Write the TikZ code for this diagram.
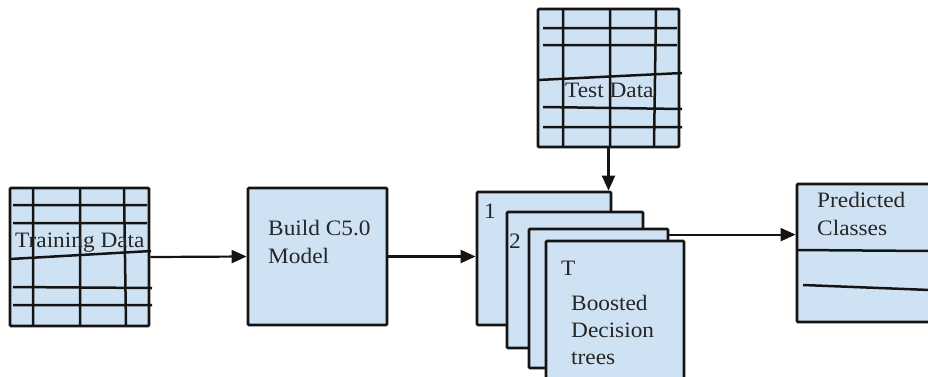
\documentclass[tikz,border=0pt]{standalone}
\usepackage{fontspec}
\setmainfont{Liberation Serif}[FakeStretch=1.06]
\usetikzlibrary{arrows.meta}
\definecolor{boxfill}{HTML}{CFE2F3}
\definecolor{ink}{HTML}{141414}
\definecolor{txt}{HTML}{262626}
\tikzset{
  box/.style={draw=ink, fill=boxfill, line width=2.8pt, rounded corners=1pt,
              rectangle, inner sep=0pt},
  grid/.style={draw=ink, line width=2.5pt},
  lbl/.style={text=txt, inner sep=0pt, font=\fontsize{22}{28}\selectfont, align=left},
  arr/.style={draw=ink, line width=2.2pt, -{Triangle[length=15pt,width=13pt]}}
}
\begin{document}
\begin{tikzpicture}[x=1pt,y=-1pt]
\useasboundingbox (0,0) rectangle (928,376);
\clip (0,0) rectangle (928,376);

% training data table
\node[box, minimum width=139pt, minimum height=138pt] (train) at (79.5,257) {};
\draw[grid] (33,188) -- (33,326) (80,188) -- (80,326) (124,188) -- (126,326);
\draw[grid] (13,205) -- (147,205) (13,223) -- (147,223)
            (10,259) -- (151,251) (13,287) -- (152,288) (13,305) -- (152,305);
\node[lbl, anchor=base west] (traintxt) at (15,247) {Training Data};

% model building step
\node[box, minimum width=139pt, minimum height=137pt] (build) at (317.5,256.5) {};
\node[lbl, anchor=north west] (buildtxt) at (268,220) {Build C5.0\\Model};

% stack of boosted trees
\node[box, minimum width=134pt, minimum height=133pt] (card1) at (544,258.5) {};
\node[box, minimum width=136pt, minimum height=136pt] (card2) at (575,280) {};
\node[box, minimum width=139pt, minimum height=139pt] (card3) at (598.5,298.5) {};
\node[box, minimum width=138pt, minimum height=138pt] (card4) at (615,310) {};
\node[lbl, anchor=base west] (n1) at (484,218) {1};
\node[lbl, anchor=base west] (n2) at (509,248) {2};
\node[lbl, anchor=base west] (nT) at (561,275) {T};
\node[lbl, anchor=north west, font=\fontsize{22}{27}\selectfont] (treestxt) at (571,295)
  {Boosted\\Decision\\trees};

% test data table
\node[box, minimum width=141pt, minimum height=138pt] (test) at (608.5,78) {};
\draw[grid] (563,9) -- (563,147) (610,9) -- (610,147) (656,9) -- (654,147);
\draw[grid] (543,28) -- (677,28) (543,45) -- (677,45)
            (538,80) -- (682,73) (543,107) -- (682,109) (543,127) -- (682,127);
\node[lbl, anchor=base west] (testtxt) at (565,97) {Test Data};

% predicted classes table
\node[box, minimum width=139pt, minimum height=138pt] (pred) at (866.5,253) {};
\draw[grid] (797,250) -- (930,251) (803,285) -- (930,290);
\node[lbl, anchor=north west] (predtxt) at (817,192) {Predicted\\Classes};

% connectors
\draw[arr] (train.east) -- (build.west);
\draw[arr] (build.east) -- (build.east -| card1.west);
\draw[arr] (test.south) -- (test.south |- card1.north);
\coordinate (c3out) at ([yshift=-7pt]card3.north east);
\draw[arr] (c3out) -- (c3out -| pred.west);
\end{tikzpicture}
\end{document}
